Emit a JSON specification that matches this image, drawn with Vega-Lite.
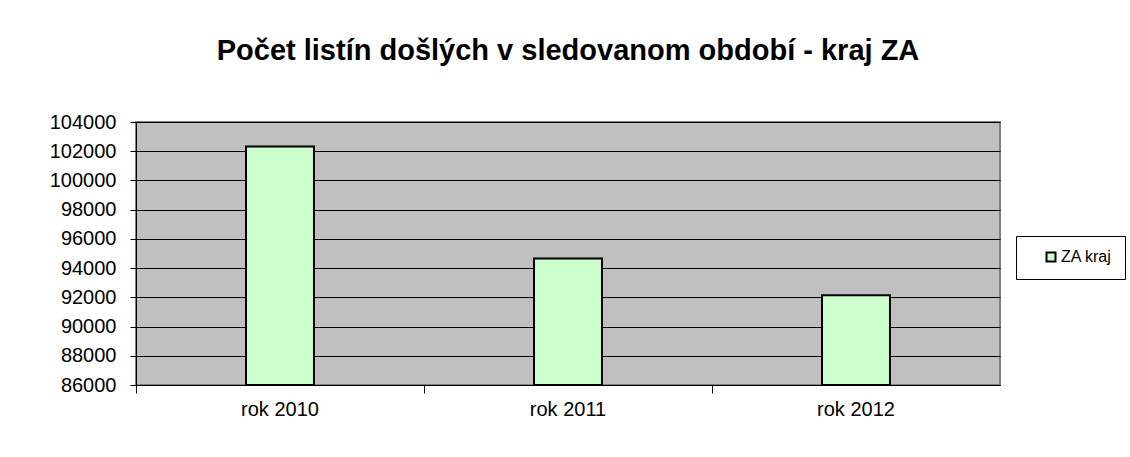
{
  "$schema": "https://vega.github.io/schema/vega-lite/v6.json",
  "autosize": {"type": "none"},
  "padding": {"left": 136, "top": 122, "right": 130, "bottom": 72},
  "width": 864,
  "height": 263,
  "background": "white",
  "title": {
    "text": "Počet listín došlých v sledovanom období - kraj ZA",
    "font": "Liberation Sans",
    "fontSize": 29,
    "fontWeight": "bold",
    "color": "black",
    "anchor": "middle",
    "offset": 46
  },
  "data": {
    "values": [
      {"rok": "rok 2010", "pocet": 102330, "serie": "ZA kraj"},
      {"rok": "rok 2011", "pocet": 94650, "serie": "ZA kraj"},
      {"rok": "rok 2012", "pocet": 92140, "serie": "ZA kraj"}
    ]
  },
  "resolve": {"axis": {"x": "independent"}},
  "layer": [
    {
      "mark": {"type": "bar", "width": {"band": 0.236}, "stroke": "black", "strokeWidth": 2},
      "encoding": {
        "x": {
          "field": "rok", "type": "nominal", "sort": null,
          "scale": {"paddingInner": 0, "paddingOuter": 0},
          "axis": {
            "orient": "bottom",
            "title": null, "labelAngle": 0, "ticks": false, "domain": true,
            "domainColor": "black", "domainWidth": 1,
            "labelFont": "Liberation Sans", "labelFontSize": 20, "labelColor": "black",
            "labelPadding": 14
          }
        },
        "y": {
          "field": "pocet", "type": "quantitative",
          "scale": {"domain": [86000, 104000], "nice": false, "zero": false},
          "axis": {
            "title": null, "values": [86000, 88000, 90000, 92000, 94000, 96000, 98000, 100000, 102000, 104000],
            "format": "d", "grid": true, "gridColor": "black", "gridWidth": 1, "gridOpacity": 1,
            "domainColor": "black", "domainWidth": 1, "tickColor": "black", "tickSize": 6,
            "labelFont": "Liberation Sans", "labelFontSize": 20, "labelColor": "black",
            "labelPadding": 14
          }
        },
        "y2": {"datum": 86000},
        "color": {
          "field": "serie", "type": "nominal",
          "scale": {"range": ["#CCFFCC"]},
          "legend": {
            "title": null, "orient": "none", "legendX": 880, "legendY": 114,
            "strokeColor": "black", "fillColor": "white", "padding": 13,
            "symbolType": "square", "symbolSize": 81, "symbolStrokeColor": "black",
            "symbolStrokeWidth": 2, "symbolOffset": 14,
            "labelFont": "Liberation Sans", "labelFontSize": 16, "labelColor": "black",
            "labelOffset": 2
          }
        }
      }
    },
    {
      "mark": {"type": "bar", "opacity": 0},
      "encoding": {
        "x": {
          "field": "rok", "type": "nominal", "sort": null,
          "axis": {
            "orient": "bottom",
            "title": null, "labels": false, "domain": false, "ticks": true,
            "bandPosition": 0, "tickColor": "black", "tickSize": 8
          }
        }
      }
    }
  ],
  "config": {
    "view": {"fill": "#C0C0C0", "stroke": "#808080", "strokeWidth": 2}
  }
}
